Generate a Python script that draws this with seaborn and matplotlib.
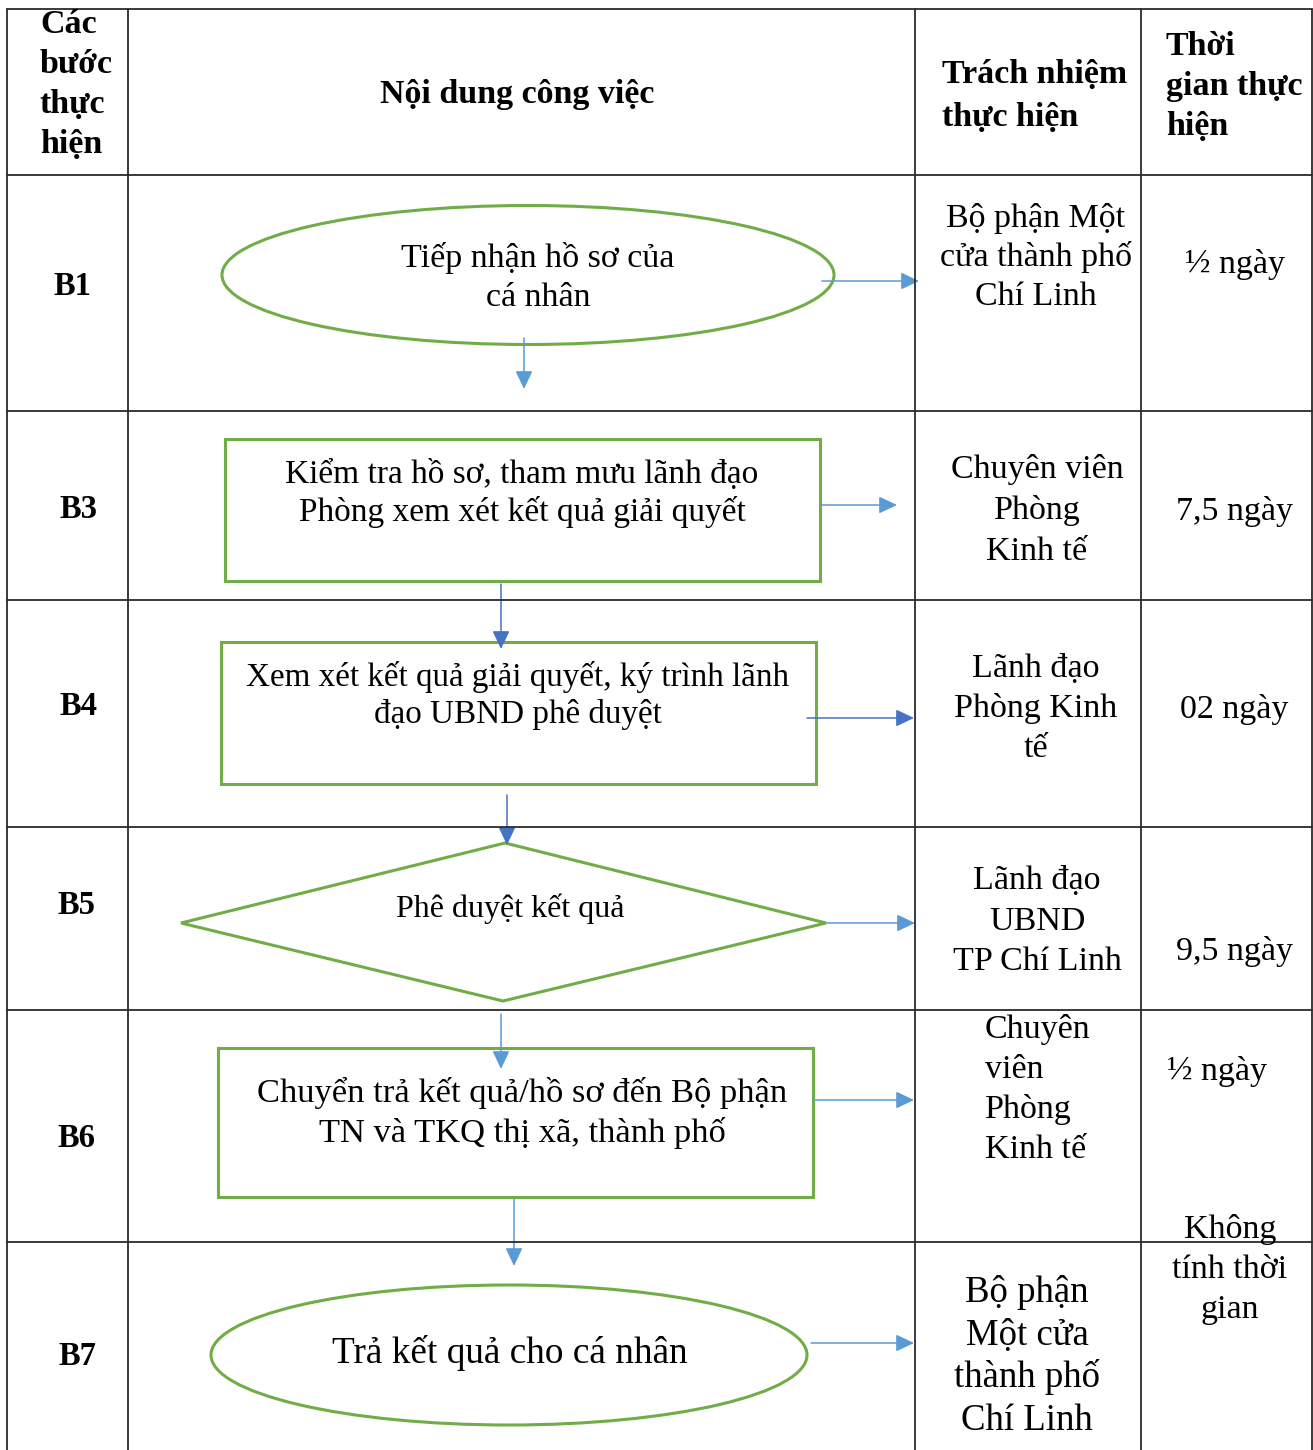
import matplotlib
matplotlib.use("Agg")
import matplotlib.pyplot as plt
import seaborn as sns
from matplotlib.patches import Ellipse, Rectangle, Polygon, FancyArrowPatch

# --- dữ liệu của bảng quy trình ---
header_labels = ["Các\nbước\nthực\nhiện", "Nội dung công việc",
                 "Trách nhiệm\nthực hiện", "Thời\ngian thực\nhiện"]
step_labels = ["B1", "B3", "B4", "B5", "B6", "B7"]
task_texts = [
    "Tiếp nhận hồ sơ của\ncá nhân",
    "Kiểm tra hồ sơ, tham mưu lãnh đạo\nPhòng xem xét kết quả giải quyết",
    "Xem xét kết quả giải quyết, ký trình lãnh\nđạo UBND phê duyệt",
    "Phê duyệt kết quả",
    "Chuyển trả kết quả/hồ sơ đến Bộ phận\nTN và TKQ thị xã, thành phố",
    "Trả kết quả cho cá nhân",
]
responsible = [
    "Bộ phận Một\ncửa thành phố\nChí Linh",
    "Chuyên viên\nPhòng\nKinh tế",
    "Lãnh đạo\nPhòng Kinh\ntế",
    "Lãnh đạo\nUBND\nTP Chí Linh",
    "Chuyên\nviên\nPhòng\nKinh tế",
    "Bộ phận\nMột cửa\nthành phố\nChí Linh",
]
durations = ["½ ngày", "7,5 ngày", "02 ngày", "9,5 ngày", "½ ngày",
             "Không\ntính thời\ngian"]

# --- bố cục (pixel) ---
W, H = 1313, 1450
COL_X = [7, 128, 915, 1141, 1312]
ROW_Y = [9, 175, 411, 600, 827, 1010, 1242]
GREEN = "#70AD47"
BLUE = "#5B9BD5"
DARK_BLUE = "#4472C4"
LINE = "#2b2b2b"
BODY = 24.5

sns.set_theme(style="white")
plt.rcParams["font.family"] = ["Liberation Serif", "DejaVu Serif"]

fig = plt.figure(figsize=(W / 100, H / 100), dpi=100)
ax = fig.add_axes([0, 0, 1, 1])
ax.set_xlim(0, W)
ax.set_ylim(H, 0)
ax.axis("off")


def put_lines(x, y0, text, pitch, size=BODY, ha="center", weight="normal"):
    for i, line in enumerate(text.split("\n")):
        ax.text(x, y0 + i * pitch, line, ha=ha, va="baseline",
                fontsize=size, fontweight=weight, color="black")


def arrow(x0, y0, x1, y1, color=BLUE):
    ax.add_patch(FancyArrowPatch((x0, y0), (x1, y1),
                                 arrowstyle="-|>,head_length=11,head_width=5.2",
                                 mutation_scale=1, color=color, lw=1.1,
                                 shrinkA=0, shrinkB=0))


# khung bảng
for y in ROW_Y:
    ax.plot([COL_X[0], COL_X[-1]], [y, y], color=LINE, lw=1.3)
for x in COL_X:
    ax.plot([x, x], [ROW_Y[0], H], color=LINE, lw=1.3)

# tiêu đề cột
put_lines(40, 33, header_labels[0], 40, weight="bold", ha="left")
put_lines(517, 103, header_labels[1], 40, weight="bold")
put_lines(942, 83, header_labels[2], 43, weight="bold", ha="left")
put_lines(1166, 55, header_labels[3], 40, weight="bold", ha="left")

# nhãn bước
step_pos = [(73, 295), (79, 518), (78, 715), (76, 914), (76, 1147), (77, 1365)]
for (x, y), lab in zip(step_pos, step_labels):
    put_lines(x, y, lab, 40, size=23.5, weight="bold")

# hình khối lưu đồ
ax.add_patch(Ellipse((528, 275), 612, 139, fill=False, ec=GREEN, lw=2.2))
ax.add_patch(Rectangle((225, 439), 595, 142, fill=False, ec=GREEN, lw=2.2))
ax.add_patch(Rectangle((221, 642), 595, 142, fill=False, ec=GREEN, lw=2.2))
ax.add_patch(Polygon([(181, 923), (505, 843), (826, 923), (503, 1001)],
                     closed=True, fill=False, ec=GREEN, lw=2.2))
ax.add_patch(Rectangle((218, 1048), 595, 149, fill=False, ec=GREEN, lw=2.2))
ax.add_patch(Ellipse((509, 1355), 596, 140, fill=False, ec=GREEN, lw=2.2))

# nội dung công việc
put_lines(538, 267, task_texts[0], 39)
put_lines(522, 483, task_texts[1], 38, size=24)
put_lines(518, 686, task_texts[2], 37, size=23.9)
put_lines(510, 917, task_texts[3], 40, size=23)
put_lines(522, 1102, task_texts[4], 40, size=24.8)
put_lines(510, 1363, task_texts[5], 40, size=26.8)

# mũi tên xuống
arrow(524, 338, 524, 389)
arrow(501, 584, 501, 649, DARK_BLUE)
arrow(507, 795, 507, 845, DARK_BLUE)
arrow(501, 1014, 501, 1069)
arrow(514, 1199, 514, 1266)

# mũi tên sang phải
arrow(822, 281, 919, 281)
arrow(820, 505, 897, 505)
arrow(807, 718, 914, 718, DARK_BLUE)
arrow(826, 923, 915, 923)
arrow(813, 1100, 914, 1100)
arrow(811, 1343, 914, 1343)

# trách nhiệm thực hiện
put_lines(1036, 227, responsible[0], 39)
put_lines(1037, 478, responsible[1], 41)
put_lines(1036, 677, responsible[2], 40)
put_lines(1037, 889, responsible[3], 40.5)
put_lines(985, 1038, responsible[4], 40, ha="left")
put_lines(1027, 1302, responsible[5], 42.7, size=26.5)

# thời gian
put_lines(1235, 273, durations[0], 40)
put_lines(1234, 520, durations[1], 40)
put_lines(1234, 718, durations[2], 40)
put_lines(1234, 960, durations[3], 40)
put_lines(1167, 1080, durations[4], 40, ha="left")
put_lines(1230, 1238, durations[5], 40)

fig.savefig("out.png", dpi=100, facecolor="white")
